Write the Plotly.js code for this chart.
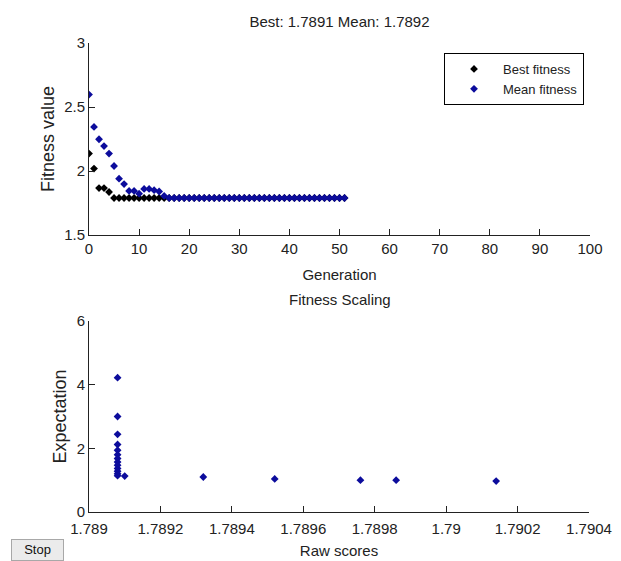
<!DOCTYPE html>
<html>
<head>
<meta charset="utf-8">
<script src="https://cdn.plot.ly/plotly-3.0.1.min.js"></script>
<style>
  html, body { margin: 0; padding: 0; background: #fff; }
  #chart { width: 621px; height: 561px; position: relative; }
  #stop {
    position: absolute; left: 11px; top: 539px; width: 53px; height: 22px;
    background: #ebebeb; border: 1px solid #a8a8a8; box-sizing: border-box;
    font-family: "Liberation Sans", Arial, sans-serif;
    font-size: 13px; color: #111; text-align: center; line-height: 20px;
  }
</style>
</head>
<body>
<div id="chart"></div>
<div id="stop">Stop</div>
<script>
// ---- Data ----
const generations = [0,1,2,3,4,5,6,7,8,9,10,11,12,13,14,15,16,17,18,19,20,21,22,23,24,25,26,27,28,29,30,31,32,33,34,35,36,37,38,39,40,41,42,43,44,45,46,47,48,49,50,51];
const bestFitness = [2.136,2.019,1.867,1.867,1.836,1.7891,1.7891,1.7891,1.7891,1.7891,1.7891,1.7891,1.7891,1.7891,1.7891,1.7891,1.7891,1.7891,1.7891,1.7891,1.7891,1.7891,1.7891,1.7891,1.7891,1.7891,1.7891,1.7891,1.7891,1.7891,1.7891,1.7891,1.7891,1.7891,1.7891,1.7891,1.7891,1.7891,1.7891,1.7891,1.7891,1.7891,1.7891,1.7891,1.7891,1.7891,1.7891,1.7891,1.7891,1.7891,1.7891,1.7891];
const meanFitness = [2.597,2.344,2.248,2.195,2.136,2.039,1.94,1.898,1.844,1.844,1.823,1.86,1.86,1.85,1.84,1.805,1.7892,1.7892,1.7892,1.7892,1.7892,1.7892,1.7892,1.7892,1.7892,1.7892,1.7892,1.7892,1.7892,1.7892,1.7892,1.7892,1.7892,1.7892,1.7892,1.7892,1.7892,1.7892,1.7892,1.7892,1.7892,1.7892,1.7892,1.7892,1.7892,1.7892,1.7892,1.7892,1.7892,1.7892,1.7892,1.7892];

const rawScores = [1.78908,1.78908,1.78908,1.78908,1.78908,1.78908,1.78908,1.78908,1.78908,1.78908,1.78908,1.78908,1.78908,1.78910,1.78932,1.78952,1.78976,1.78986,1.79014];
const expectation = [4.22,3.0,2.44,2.12,1.94,1.8,1.68,1.57,1.47,1.37,1.28,1.2,1.14,1.13,1.10,1.04,1.0,1.0,0.97];

const topXTicks = [0,10,20,30,40,50,60,70,80,90,100];
const topYTicks = [1.5,2,2.5,3];
const topYTickText = ["1.5","2","2.5","3"];
const botXTicks = [1.789,1.7892,1.7894,1.7896,1.7898,1.79,1.7902,1.7904];
const botXTickText = ["1.789","1.7892","1.7894","1.7896","1.7898","1.79","1.7902","1.7904"];
const botYTicks = [0,2,4,6];

const titleText = "Best: 1.7891 Mean: 1.7892";
const subTitleText = "Fitness Scaling";

// ---- Styling ----
const REG = '"Liberation Sans", Arial, sans-serif';
const INK = '#222';
const BLUE = '#0c0c9c';

const axisCommon = {
  showline: true, linecolor: INK, linewidth: 1,
  ticks: 'inside', ticklen: 6, tickcolor: INK, tickwidth: 1,
  showgrid: false, zeroline: false, mirror: false,
  tickfont: {family: REG, size: 15, color: INK},
  tickmode: 'array', fixedrange: true
};

const traces = [
  {x: generations, y: bestFitness, name: 'Best fitness', type: 'scatter', mode: 'markers',
   marker: {symbol: 'diamond', size: 6, color: '#000'}, xaxis: 'x', yaxis: 'y'},
  {x: generations, y: meanFitness, name: 'Mean fitness', type: 'scatter', mode: 'markers',
   marker: {symbol: 'diamond', size: 6, color: BLUE}, xaxis: 'x', yaxis: 'y'},
  {x: rawScores, y: expectation, name: 'Expectation', type: 'scatter', mode: 'markers',
   marker: {symbol: 'diamond', size: 6, color: BLUE}, xaxis: 'x2', yaxis: 'y2', showlegend: false}
];

const layout = {
  width: 621, height: 561,
  paper_bgcolor: '#fff', plot_bgcolor: '#fff',
  margin: {l: 89, r: 31, t: 43, b: 49},
  showlegend: true,
  title: {text: titleText, font: {family: REG, size: 15, color: INK},
          xref: 'paper', x: 0.5, xanchor: 'center', yref: 'container', y: 1 - 22/561, yanchor: 'middle'},
  xaxis: Object.assign({}, axisCommon, {
    domain: [0, 1], anchor: 'y', range: [0, 100], tickvals: topXTicks,
    title: {text: 'Generation', font: {family: REG, size: 15, color: INK}, standoff: 13}
  }),
  yaxis: Object.assign({}, axisCommon, {
    domain: [0.5906, 1], anchor: 'x', range: [1.5, 3], tickvals: topYTicks, ticktext: topYTickText,
    title: {text: 'Fitness value', font: {family: REG, size: 18, color: INK}, standoff: 4}
  }),
  xaxis2: Object.assign({}, axisCommon, {
    domain: [0, 0.998], anchor: 'y2', range: [1.789, 1.7904], tickvals: botXTicks, ticktext: botXTickText,
    ticklabelstandoff: 3,
    title: {text: 'Raw scores', font: {family: REG, size: 15, color: INK}, standoff: 9}
  }),
  yaxis2: Object.assign({}, axisCommon, {
    domain: [0, 0.4073], anchor: 'x2', range: [0, 6], tickvals: botYTicks,
    title: {text: 'Expectation', font: {family: REG, size: 18, color: INK}, standoff: 5}
  }),
  legend: {x: 0.7086, y: 0.9787, xanchor: 'left', yanchor: 'top', xref: 'paper', yref: 'paper',
           bgcolor: '#fff', bordercolor: '#000', borderwidth: 1,
           font: {family: REG, size: 13, color: INK}, itemwidth: 48, tracegroupgap: 0},
  annotations: [
    {text: subTitleText, xref: 'paper', yref: 'paper', x: 0.5, y: (512 - 299) / 469,
     xanchor: 'center', yanchor: 'middle', showarrow: false,
     font: {family: REG, size: 15, color: INK}}
  ]
};

Plotly.newPlot('chart', traces, layout, {displayModeBar: false, staticPlot: true});
</script>
</body>
</html>
